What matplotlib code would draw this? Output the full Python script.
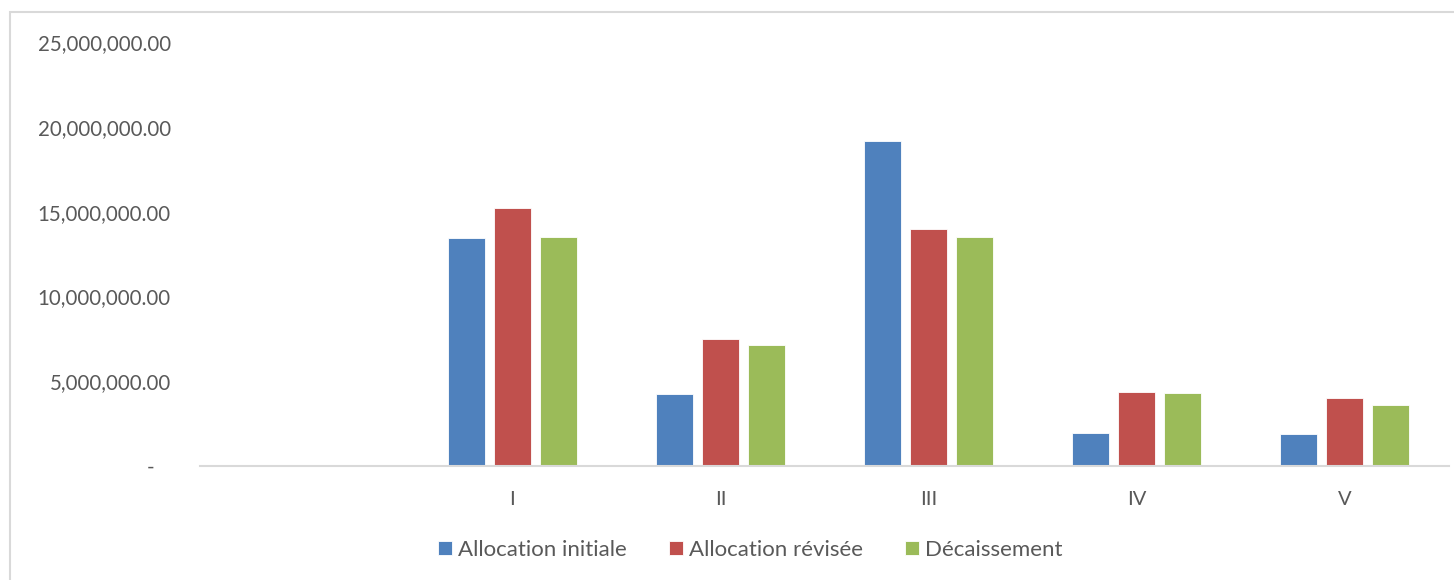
import matplotlib
matplotlib.use("Agg")
import matplotlib.pyplot as plt
from matplotlib.patches import Rectangle
from matplotlib.ticker import FuncFormatter, MultipleLocator
import numpy as np

categories = ["", "I", "II", "III", "IV", "V"]
series_names = ["Allocation initiale", "Allocation révisée", "Décaissement"]
allocation_initiale = [0, 13_420_000, 4_260_000, 19_150_000, 1_950_000, 1_890_000]
allocation_revisee = [0, 15_190_000, 7_500_000, 13_950_000, 4_370_000, 4_020_000]
decaissement = [0, 13_480_000, 7_150_000, 13_530_000, 4_310_000, 3_600_000]
colors = ["#4F81BD", "#C0504D", "#9BBB59"]

plt.rcParams["font.family"] = ["Lato", "DejaVu Sans"]
text_color = "#595959"

fig = plt.figure(figsize=(14.54, 5.8), dpi=100)
fig.patch.set_facecolor("white")

# chart frame
fig.add_artist(Rectangle((10 / 1454, -0.05), 1.1, (580 - 12) / 580 + 0.05,
                         transform=fig.transFigure, fill=False,
                         edgecolor="#D9D9D9", linewidth=1.5))

ax = fig.add_axes([200 / 1454, 1 - 466 / 580, 1249 / 1454, (466 - 42) / 580])

x = np.arange(len(categories))
width = 0.178
offsets = [-0.221, 0.0, 0.221]
for vals, off, col, name in zip([allocation_initiale, allocation_revisee, decaissement],
                                offsets, colors, series_names):
    ax.bar(x + off, vals, width, color=col, edgecolor="white", linewidth=0.6,
           label=name, zorder=3)

ax.set_xlim(-0.5, len(categories) - 0.5)
ax.set_ylim(0, 25_000_000)
ax.yaxis.set_major_locator(MultipleLocator(5_000_000))


def fmt(v, pos):
    if abs(v) < 1e-6:
        return "-   "
    return f"{v:,.2f}"


ax.yaxis.set_major_formatter(FuncFormatter(fmt))
ax.set_xticks(x)
ax.set_xticklabels(categories)

for s in ["top", "right", "left"]:
    ax.spines[s].set_visible(False)
ax.spines["bottom"].set_color("#D9D9D9")
ax.spines["bottom"].set_linewidth(1.5)
ax.spines["bottom"].set_zorder(4)

ax.tick_params(axis="both", length=0, colors=text_color)
ax.tick_params(axis="y", pad=21, labelsize=14.8)
ax.tick_params(axis="x", pad=18, labelsize=14.5)

leg = fig.legend(loc="center", bbox_to_anchor=(750 / 1454, 1 - 550 / 580), ncol=3,
                 frameon=False, fontsize=16, handlelength=0.63, handleheight=0.63,
                 handletextpad=0.27, columnspacing=1.9, labelcolor=text_color)

fig.savefig("out.png", dpi=100, facecolor="white")
